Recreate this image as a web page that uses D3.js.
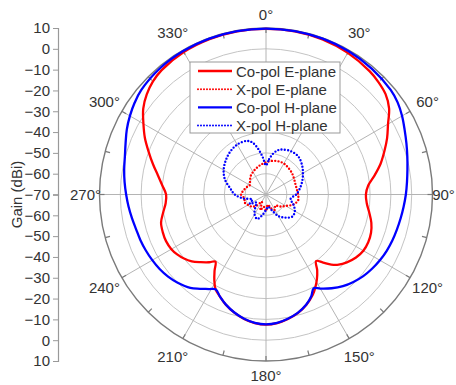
<!DOCTYPE html>
<html>
<head>
<meta charset="utf-8">
<script src="https://cdn.jsdelivr.net/npm/d3@7"></script>
<style>
  body { margin: 0; background: #fff; }
  text { font-family: "Liberation Sans", Arial, sans-serif; fill: #333; }
</style>
</head>
<body>
<div id="chart"></div>
<script>
var width = 456,
    height = 385,
    cx = 266,
    cy = 194.5,
    radius = 166.5;

// gain range shown on the radial axis (dBi)
var gainMin = -70, gainMax = 10;
var angleLabels = [0, 30, 60, 90, 120, 150, 180, 210, 240, 270, 300, 330];
var gridLevels = [-60, -50, -40, -30, -20, -10, 0];

var seriesNames = ["Co-pol E-plane", "X-pol E-plane", "Co-pol H-plane", "X-pol H-plane"];

// [angle (deg), gain (dBi)]
var coPolE = [[0,9.6],[10,9.6],[20,9.3],[30,8.6],[40,7.4],[45,6.4],[50,5],[55,2.2],[60,-2.3],[65,-5.8],
  [70,-9.5],[75,-13],[80,-17],[85,-20.7],[90,-22],[95,-21.4],[100,-19.6],[105,-17.6],[110,-16.3],
  [115,-15.8],[120,-16],[125,-17.2],[130,-19.3],[134,-21.5],[137,-24],[140,-27.3],[143,-30],
  [146,-26],[149,-22.5],[152,-19.5],[155,-16.8],[160,-13.5],[165,-11],[170,-9.3],[175,-8],
  [180,-7.5],[185,-8],[190,-9.3],[195,-11.2],[200,-13.6],[204,-16],[208,-18.4],[211,-21.8],
  [214,-25.8],[217,-29.6],[220,-27.5],[224,-24.8],[228,-22],[232,-20],[236,-18.5],[240,-17.5],
  [245,-17],[250,-17.2],[255,-17.8],[260,-19.8],[265,-21.6],[270,-22],[275,-20],[280,-17.3],
  [285,-13.8],[290,-10],[295,-5.8],[300,-2],[305,2],[310,4.8],[315,6.8],[320,8],[330,9],
  [340,9.4],[350,9.6]];

var coPolH = [[0,9.7],[10,9.7],[20,9.7],[30,9.5],[40,9],[50,8.2],[55,7.2],[60,5.5],[65,3.5],
  [70,1.8],[75,0.3],[80,-1],[85,-2],[90,-2.8],[95,-3.6],[100,-4.3],[105,-4.9],[110,-5.4],
  [115,-6],[120,-6.8],[125,-7.8],[130,-9],[135,-10.6],[140,-12.5],[145,-15],[150,-17.8],
  [153,-19.5],[156,-16.5],[160,-13.6],[165,-11.1],[170,-9.4],[175,-8.1],[180,-7.6],[185,-8.1],
  [190,-9.4],[195,-11.3],[200,-13.7],[204,-16],[208,-18.4],[211,-17],[215,-14.7],[219,-12.2],
  [225,-10],[230,-8.6],[235,-7.6],[240,-6.9],[245,-6.3],[250,-5.8],[255,-5.4],[260,-4.6],
  [265,-3.7],[270,-2.8],[275,-1.8],[280,-0.8],[285,0.2],[290,1.8],[295,3.8],[300,5.5],
  [305,7],[310,8.2],[320,9.2],[330,9.6],[340,9.7],[350,9.7]];

var xPolE = [[0,-54.5],[10,-53.6],[20,-53],[30,-52.8],[40,-53.3],[50,-53.8],[60,-54.5],[70,-55],
  [80,-55],[90,-54.6],[100,-54.3],[110,-56],[120,-59],[130,-61],[140,-63],[150,-61.5],
  [160,-63],[170,-65],[180,-62],[190,-64],[200,-62],[210,-66],[220,-63],[230,-61],[240,-60],
  [250,-59],[260,-59.5],[270,-58],[280,-59],[290,-60],[300,-61],[310,-60],[320,-58.5],
  [330,-57.5],[340,-56.5],[350,-55.5]];

var xPolH = [[0,-56],[5,-53],[10,-50],[15,-48],[20,-47],[30,-46],[40,-46],[50,-47.5],[60,-49.5],
  [70,-51.5],[80,-53.5],[90,-55.5],[100,-58],[110,-56],[120,-54],[130,-53.5],[140,-55.5],
  [150,-58],[160,-62],[170,-64],[180,-62.5],[190,-60],[200,-57.5],[210,-59],[220,-62],
  [230,-64],[240,-61],[250,-63],[260,-59],[270,-55],[280,-52.5],[290,-49],[300,-46.5],
  [310,-44.7],[320,-43.2],[330,-42.3],[340,-42.6],[345,-44],[350,-47.5],[355,-52]];

var svg = d3.select("#chart").append("svg")
    .attr("width", width)
    .attr("height", height);

var r = d3.scaleLinear().domain([gainMin, gainMax]).range([0, radius]);

var plot = svg.append("g")
    .attr("transform", "translate(" + cx + "," + cy + ")");

// grid circles
plot.selectAll(".grid-circle")
    .data(gridLevels)
    .enter().append("circle")
    .attr("r", function (d) { return r(d); })
    .attr("fill", "none")
    .attr("stroke", "#c4c4c4")
    .attr("stroke-width", 1);

// spokes every 30 degrees
plot.selectAll(".spoke")
    .data(angleLabels)
    .enter().append("line")
    .attr("x1", 0).attr("y1", 0)
    .attr("x2", function (d) { return radius * Math.sin(d * Math.PI / 180); })
    .attr("y2", function (d) { return -radius * Math.cos(d * Math.PI / 180); })
    .attr("stroke", "#b4b4b4")
    .attr("stroke-width", 1);

// outer ring with ticks every 15 degrees
plot.append("circle")
    .attr("r", radius)
    .attr("fill", "none")
    .attr("stroke", "#7a7a7a")
    .attr("stroke-width", 1.4);

plot.selectAll(".ring-tick")
    .data(d3.range(0, 360, 15))
    .enter().append("line")
    .attr("x1", function (d) { return radius * Math.sin(d * Math.PI / 180); })
    .attr("y1", function (d) { return -radius * Math.cos(d * Math.PI / 180); })
    .attr("x2", function (d) { return (radius - 5) * Math.sin(d * Math.PI / 180); })
    .attr("y2", function (d) { return -(radius - 5) * Math.cos(d * Math.PI / 180); })
    .attr("stroke", "#7a7a7a")
    .attr("stroke-width", 1.2);

// angle labels: a bit further out on the diagonals
function labelRadius(d) {
    return 180.5 + 7 * Math.abs(Math.sin(2 * d * Math.PI / 180));
}
plot.selectAll(".angle-label")
    .data(angleLabels)
    .enter().append("text")
    .attr("x", function (d) { return labelRadius(d) * Math.sin(d * Math.PI / 180) - (d === 90 ? 3 : 0); })
    .attr("y", function (d) { return -labelRadius(d) * Math.cos(d * Math.PI / 180); })
    .attr("text-anchor", "middle")
    .attr("dominant-baseline", "central")
    .style("font-size", "15px")
    .text(function (d) { return d + "\u00b0"; });

// curves
var line = d3.lineRadial()
    .angle(function (d) { return d[0] * Math.PI / 180; })
    .radius(function (d) { return r(d[1]); })
    .curve(d3.curveCatmullRomClosed.alpha(0.5));

var series = [
    {name: seriesNames[0], data: coPolE, color: "#ff0000", dash: null},
    {name: seriesNames[1], data: xPolE, color: "#ff0000", dash: "0 3.3"},
    {name: seriesNames[2], data: coPolH, color: "#0000ff", dash: null},
    {name: seriesNames[3], data: xPolH, color: "#0000ff", dash: "0 3.3"}
];

plot.selectAll(".curve")
    .data(series)
    .enter().append("path")
    .attr("d", function (d) { return line(d.data); })
    .attr("fill", "none")
    .attr("stroke", function (d) { return d.color; })
    .attr("stroke-width", function (d) { return d.dash ? 2.4 : 2.3; })
    .attr("stroke-linecap", "round")
    .attr("stroke-dasharray", function (d) { return d.dash; });

// left gain axis, mirrored about the centre
var axisX = 58;
var yTop = d3.scaleLinear().domain([gainMin, gainMax]).range([cy, cy - radius]);
var yBottom = d3.scaleLinear().domain([gainMin, gainMax]).range([cy, cy + radius]);

function drawAxis(scale, majors) {
    var g = svg.append("g").attr("transform", "translate(" + axisX + ",0)");
    g.call(d3.axisLeft(scale).tickValues(d3.range(-65, 15, 10)).tickSize(3).tickFormat(""));
    g.call(d3.axisLeft(scale).tickValues(majors).tickSize(5).tickPadding(3));
    g.selectAll("path").attr("stroke", "#999").attr("stroke-width", 1.2);
    g.selectAll("line").attr("stroke", "#999");
    g.selectAll("text")
        .style("font-size", "15px")
        .style("font-family", "'Liberation Sans', Arial, sans-serif")
        .attr("fill", "#333");
    return g;
}
drawAxis(yTop, d3.range(-70, 20, 10));
drawAxis(yBottom, d3.range(-60, 20, 10));

svg.append("text")
    .attr("transform", "translate(16," + cy + ") rotate(-90)")
    .attr("text-anchor", "middle")
    .attr("dominant-baseline", "central")
    .style("font-size", "15px")
    .text("Gain (dBi)");

// legend
var legend = svg.append("g").attr("transform", "translate(190,62)");
legend.append("rect")
    .attr("width", 150)
    .attr("height", 71)
    .attr("fill", "#fff")
    .attr("stroke", "#999")
    .attr("stroke-width", 1);

var rows = legend.selectAll(".row")
    .data(series)
    .enter().append("g")
    .attr("transform", function (d, i) { return "translate(0," + (9 + i * 18.2) + ")"; });

rows.append("line")
    .attr("x1", 8).attr("x2", 42)
    .attr("stroke", function (d) { return d.color; })
    .attr("stroke-width", function (d) { return d.dash ? 2 : 2.4; })
    .attr("stroke-linecap", function (d) { return d.dash ? "round" : "butt"; })
    .attr("stroke-dasharray", function (d) { return d.dash ? "0 3" : null; });

rows.append("text")
    .attr("x", 46)
    .attr("dominant-baseline", "central")
    .style("font-size", "15px")
    .text(function (d) { return d.name; });
</script>
</body>
</html>
